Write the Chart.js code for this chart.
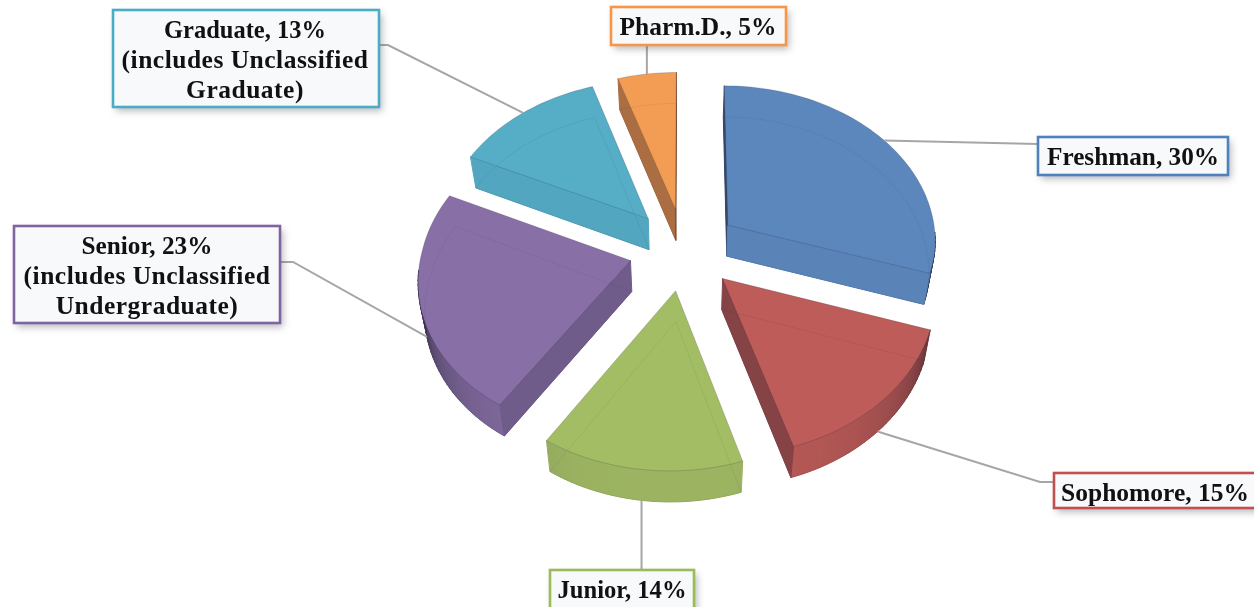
<!DOCTYPE html>
<html>
<head>
<meta charset="utf-8">
<style>
    html, body { margin: 0; padding: 0; background: #fff; overflow: hidden; }
    canvas { display: block; }
</style>
<script src="https://cdn.jsdelivr.net/npm/chart.js@4"></script>
</head>
<body>
<canvas id="chart" width="1254" height="607"></canvas>
<script>
const categories = ['Freshman', 'Sophomore', 'Junior', 'Senior', 'Graduate', 'Pharm.D.'];
const shares = [30, 15, 14, 23, 13, 5];
const notes = ['', '', '', '(includes Unclassified|Undergraduate)', '(includes Unclassified|Graduate)', ''];
const sliceColors = ['#5c87bd', '#bd5c58', '#a3bd65', '#8870a6', '#56adc6', '#f39d54'];
const edgeColors = ['#4f81bd', '#c0504d', '#9bbb59', '#8064a2', '#4bacc6', '#f79646'];

// callout box layout: x, y, w, h, text centre, squeezed title width, then the leader line elbow and end
const boxes = [
    { x: 1038, y: 137, w: 190, h: 38, tx: 1133, fit: 172, elbow: null, end: [1038, 144], arc: 'upper' },
    { x: 1054, y: 473, w: 204, h: 35, tx: 1155, fit: 188, elbow: [1040, 482], end: [1054, 482], arc: 'lower' },
    { x: 550, y: 570, w: 144, h: 44, tx: 622, fit: 129, elbow: null, end: [642, 570], arc: 'lower' },
    { x: 14, y: 226, w: 266, h: 97, tx: 147, fit: 131, elbow: [293, 262], end: [280, 262], arc: 'lower' },
    { x: 113, y: 10, w: 266, h: 97, tx: 245, fit: 162, elbow: [388, 45], end: [379, 45], arc: 'upper' },
    { x: 611, y: 7, w: 175, h: 38, tx: 698, fit: 157, elbow: null, end: [647, 45], arc: 'upper' },
];

// tilted view of the flat pie
const view = { cx: 684, cy: 249, ax: 209, ay: 156, persp: 0.09, skew: 5, depth: 31, shrink: 0.975 };

function project(u, v, lower) {
    const w = 1 - view.persp * v;
    let x = view.cx + view.ax * u / w - view.skew * Math.max(v, 0);
    let y = view.cy + view.ay * v / w;
    if (lower) {
        x = view.cx + (x - view.cx) * view.shrink;
        y += view.depth;
    }
    return [x, y];
}

// point on a slice rim at angle a, exploded along the slice's middle angle
function rimPoint(arc, a, r, lower) {
    const mid = (arc.startAngle + arc.endAngle) / 2;
    const R = arc.outerRadius;
    const off = arc.options.offset;
    const u = (off * Math.cos(mid) + r * R * Math.cos(a)) / R;
    const v = (off * Math.sin(mid) + r * R * Math.sin(a)) / R;
    return project(u, v, lower);
}

function rimAngles(arc) {
    const out = [];
    const n = Math.max(4, Math.ceil((arc.endAngle - arc.startAngle) / 0.03));
    for (let i = 0; i <= n; i++) {
        out.push(arc.startAngle + (arc.endAngle - arc.startAngle) * i / n);
    }
    return out;
}

function tracePoly(ctx, pts, close) {
    ctx.beginPath();
    pts.forEach((p, i) => i ? ctx.lineTo(p[0], p[1]) : ctx.moveTo(p[0], p[1]));
    if (close) ctx.closePath();
}

function facePoints(arc, lower) {
    const pts = [rimPoint(arc, arc.startAngle, 0, lower)];
    rimAngles(arc).forEach(a => pts.push(rimPoint(arc, a, 1, lower)));
    return pts;
}

function darken(hex, alpha) {
    const n = parseInt(hex.slice(1), 16);
    const mix = (c, d) => Math.round(c * (1 - alpha) + d * alpha);
    return 'rgb(' + mix(n >> 16, 20) + ',' + mix((n >> 8) & 255, 15) + ',' + mix(n & 255, 30) + ')';
}

function wall(ctx, pts, color) {
    tracePoly(ctx, pts, true);
    ctx.fillStyle = color;
    ctx.fill();
    ctx.strokeStyle = color;
    ctx.lineWidth = 1;
    ctx.stroke();
}

function drawSlice(ctx, arc, color) {
    // bottom face
    tracePoly(ctx, facePoints(arc, true), true);
    ctx.fillStyle = color;
    ctx.fill();

    // round wall
    const angles = rimAngles(arc);
    for (let i = 0; i < angles.length - 1; i++) {
        const f = Math.sin((angles[i] + angles[i + 1]) / 2);
        if (f < 0.05) continue;
        wall(ctx, [
            rimPoint(arc, angles[i], 1, false), rimPoint(arc, angles[i + 1], 1, false),
            rimPoint(arc, angles[i + 1], 1, true), rimPoint(arc, angles[i], 1, true)
        ], darken(color, 0.05 + 0.85 * Math.pow(1 - f, 1.6)));
    }

    // flat side walls
    [[arc.startAngle, arc.startAngle - Math.PI / 2], [arc.endAngle, arc.endAngle + Math.PI / 2]].forEach(([a, n]) => {
        const f = Math.sin(n);
        if (f < -0.05) return;
        wall(ctx, [
            rimPoint(arc, a, 0, false), rimPoint(arc, a, 1, false),
            rimPoint(arc, a, 1, true), rimPoint(arc, a, 0, true)
        ], darken(color, 0.02 + 0.5 * Math.pow(1 - Math.max(f, 0), 1.3)));
    });

    // top face
    tracePoly(ctx, facePoints(arc, false), true);
    ctx.fillStyle = color;
    ctx.fill();

    // see-through edges
    ctx.lineWidth = 1;
    ctx.strokeStyle = 'rgba(30,30,50,0.07)';
    tracePoly(ctx, facePoints(arc, true), true);
    ctx.stroke();
    ctx.strokeStyle = 'rgba(30,30,50,0.18)';
    tracePoly(ctx, facePoints(arc, false), true);
    ctx.stroke();
}

const tiltedPie = {
    id: 'tiltedPie',
    beforeDatasetDraw(chart, args) {
        const ctx = chart.ctx;
        const meta = chart.getDatasetMeta(args.index);
        const colors = chart.data.datasets[args.index].backgroundColor;
        ctx.save();
        meta.data.forEach((arc, i) => drawSlice(ctx, arc, colors[i]));
        ctx.restore();
        return false;
    },
    afterDatasetsDraw(chart) {
        const ctx = chart.ctx;
        const arcs = chart.getDatasetMeta(0).data;
        ctx.save();

        // leader lines
        arcs.forEach((arc, i) => {
            const b = boxes[i];
            const mid = (arc.startAngle + arc.endAngle) / 2;
            const pts = [rimPoint(arc, mid, 1, b.arc === 'lower')];
            if (b.elbow) pts.push(b.elbow);
            pts.push(i === 5 || i === 2 ? [pts[0][0], b.end[1]] : b.end);
            tracePoly(ctx, pts, false);
            ctx.strokeStyle = '#a6a6a6';
            ctx.lineWidth = 2;
            ctx.stroke();
        });

        // callouts
        boxes.forEach((b, i) => {
            ctx.save();
            ctx.shadowColor = 'rgba(70,70,90,0.38)';
            ctx.shadowBlur = 7;
            ctx.shadowOffsetX = 3;
            ctx.shadowOffsetY = 4;
            ctx.fillStyle = '#f8f9fb';
            ctx.fillRect(b.x, b.y, b.w, b.h);
            ctx.restore();
            ctx.strokeStyle = edgeColors[i];
            ctx.lineWidth = 2.6;
            ctx.strokeRect(b.x, b.y, b.w, b.h);

            ctx.fillStyle = '#111';
            ctx.font = 'bold 25.5px "Liberation Serif"';
            ctx.textAlign = 'center';
            ctx.textBaseline = 'alphabetic';
            const first = b.y + 28;
            ctx.letterSpacing = '0px';
            ctx.fillText(categories[i] + ', ' + shares[i] + '%', b.tx, first, b.fit);
            if (notes[i]) {
                ctx.letterSpacing = '0.5px';
                notes[i].split('|').forEach((t, k) => ctx.fillText(t, b.tx, first + (k + 1) * 30));
            }
        });
        ctx.restore();
    }
};

new Chart(document.getElementById('chart'), {
    type: 'pie',
    data: {
        labels: categories,
        datasets: [{
            data: shares,
            backgroundColor: sliceColors,
            borderWidth: 0,
            offset: 55,
        }],
    },
    options: {
        responsive: false,
        animation: false,
        radius: 209,
        plugins: {
            legend: { display: false },
            tooltip: { enabled: false },
        },
    },
    plugins: [tiltedPie],
});
</script>
</body>
</html>
